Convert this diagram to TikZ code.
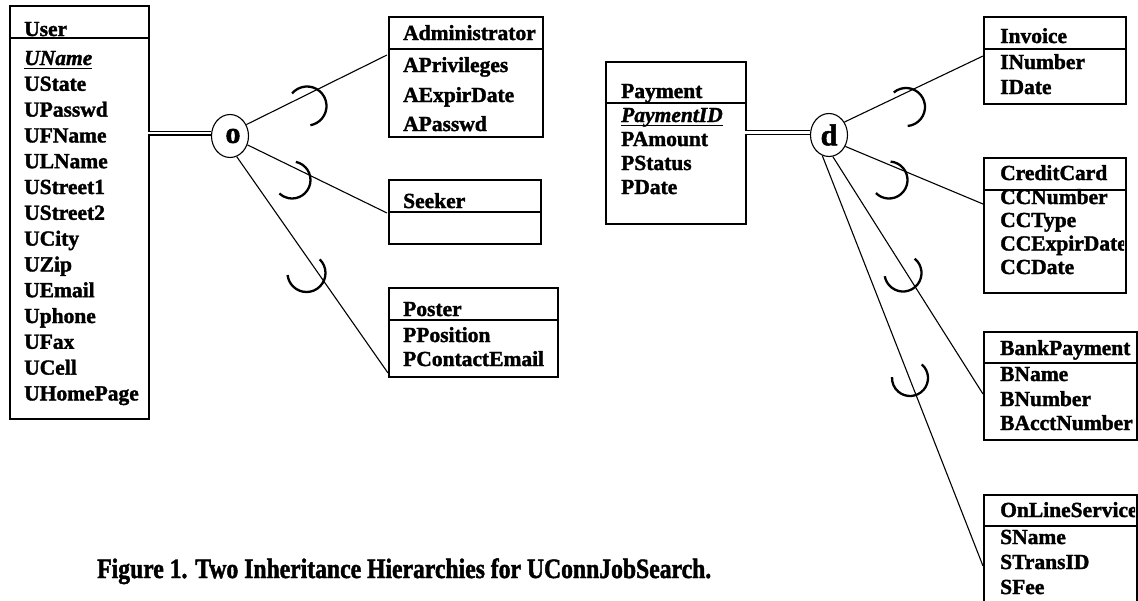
\documentclass[tikz,border=0pt]{standalone}
\usepackage{fontspec}
\setmainfont{Liberation Serif}[BoldFeatures={FakeBold=1.6},BoldItalicFeatures={FakeBold=1.6}]
\newfontfamily\capfont{Liberation Serif}[FakeStretch=0.845,BoldFeatures={FakeBold=1.6}]
\usetikzlibrary{shapes.geometric}
\begin{document}
\begin{tikzpicture}[x=1pt,y=-1pt,
  ebox/.style={draw, line width=1.9pt, inner sep=0pt, anchor=north west},
  sepline/.style={line width=1.9pt},
  lbl/.style={anchor=base west, inner sep=0pt, font=\fontsize{21.5}{24}\selectfont\bfseries},
  link/.style={line width=1.1pt},
  dbl/.style={double, double distance=2.4pt, line width=1.3pt},
  subarc/.style={line width=2.3pt},
  gen/.style={ellipse, draw, line width=1.1pt, minimum width=37pt, minimum height=43pt, inner sep=0pt,
    font=\fontsize{30}{30}\selectfont\bfseries},
  captext/.style={anchor=base west, inner sep=0pt, font=\capfont\fontsize{28}{28}\selectfont\bfseries}]
\useasboundingbox (0,0) rectangle (1138,600);

% ---------- boxes ----------
\node[ebox, minimum width=139pt, minimum height=413pt] (user) at (9,5) {};
\draw[sepline] ([yshift=-33pt]user.north west) -- ([yshift=-33pt]user.north east);
\node[ebox, minimum width=154pt, minimum height=120pt] (admin) at (388,16) {};
\draw[sepline] ([yshift=-33pt]admin.north west) -- ([yshift=-33pt]admin.north east);
\node[ebox, minimum width=152pt, minimum height=64pt] (seeker) at (388,179) {};
\draw[sepline] ([yshift=-33pt]seeker.north west) -- ([yshift=-33pt]seeker.north east);
\node[ebox, minimum width=169pt, minimum height=89pt] (poster) at (388,287) {};
\draw[sepline] ([yshift=-33pt]poster.north west) -- ([yshift=-33pt]poster.north east);
\node[ebox, minimum width=140pt, minimum height=162pt] (payment) at (605,61) {};
\draw[sepline] ([yshift=-42pt]payment.north west) -- ([yshift=-42pt]payment.north east);
\node[ebox, minimum width=142pt, minimum height=87pt] (invoice) at (983,16) {};
\draw[sepline] ([yshift=-33pt]invoice.north west) -- ([yshift=-33pt]invoice.north east);
\node[ebox, minimum width=142pt, minimum height=135pt] (credit) at (983,157) {};
\draw[sepline] ([yshift=-33pt]credit.north west) -- ([yshift=-33pt]credit.north east);
\node[ebox, minimum width=153pt, minimum height=108pt] (bank) at (983,331) {};
\draw[sepline] ([yshift=-32pt]bank.north west) -- ([yshift=-32pt]bank.north east);
\node[ebox, minimum width=153pt, minimum height=126pt] (online) at (983,494) {};
\draw[sepline] ([yshift=-32pt]online.north west) -- ([yshift=-32pt]online.north east);

% ---------- texts ----------
\node[lbl] (tUser) at (24,36) {User};
\node[lbl] (tUName) at (24,65) {\itshape UName};
\draw[line width=1.9pt] ([yshift=-3.5pt]tUName.base west) -- ([yshift=-3.5pt]tUName.base east);
\node[lbl] (tUState) at (24,90.8) {UState};
\node[lbl] (tUPasswd) at (24,116.6) {UPasswd};
\node[lbl] (tUFName) at (24,142.4) {UFName};
\node[lbl] (tULName) at (24,168.2) {ULName};
\node[lbl] (tUStreetA) at (24,194) {UStreet1};
\node[lbl] (tUStreetB) at (24,219.8) {UStreet2};
\node[lbl] (tUCity) at (24,245.6) {UCity};
\node[lbl] (tUZip) at (24,271.4) {UZip};
\node[lbl] (tUEmail) at (24,297.2) {UEmail};
\node[lbl] (tUphone) at (24,323) {Uphone};
\node[lbl] (tUFax) at (24,348.8) {UFax};
\node[lbl] (tUCell) at (24,374.6) {UCell};
\node[lbl] (tUHome) at (24,400.4) {UHomePage};

\node[lbl] (tAdmin) at (403,40) {Administrator};
\node[lbl] (tAPriv) at (403,72) {APrivileges};
\node[lbl] (tAExp) at (403,102) {AExpirDate};
\node[lbl] (tAPass) at (403,131) {APasswd};

\node[lbl] (tSeeker) at (403,208) {Seeker};

\node[lbl] (tPoster) at (403,316) {Poster};
\node[lbl] (tPPos) at (403,342) {PPosition};
\node[lbl] (tPCont) at (403,366) {PContactEmail};

\node[lbl] (tPay) at (621,98) {Payment};
\node[lbl] (tPayID) at (621,122) {\itshape PaymentID};
\draw[line width=1.9pt] ([yshift=-3.5pt]tPayID.base west) -- ([yshift=-3.5pt]tPayID.base east);
\node[lbl] (tPAm) at (621,146) {PAmount};
\node[lbl] (tPSt) at (621,170) {PStatus};
\node[lbl] (tPDa) at (621,194) {PDate};

\node[lbl] (tInv) at (1000,43) {Invoice};
\node[lbl] (tINum) at (1000,69) {INumber};
\node[lbl] (tIDate) at (1000,94) {IDate};

\begin{scope}
\clip (983,157) rectangle (1124,292);
\node[lbl] (tCC) at (1000,180) {CreditCard};
\node[lbl] (tCCNum) at (1000,204) {CCNumber};
\node[lbl] (tCCType) at (1000,227) {CCType};
\node[lbl] (tCCExp) at (1000,250.5) {CCExpirDate};
\node[lbl] (tCCDate) at (1000,274) {CCDate};
\end{scope}

\node[lbl] (tBank) at (1000,355) {BankPayment};
\node[lbl] (tBName) at (1000,381) {BName};
\node[lbl] (tBNum) at (1000,406) {BNumber};
\node[lbl] (tBAcct) at (1000,430) {BAcctNumber};

\begin{scope}
\clip (983,494) rectangle (1135,620);
\node[lbl] (tOnl) at (1000,517) {OnLineService};
\node[lbl] (tSName) at (1000,544) {SName};
\node[lbl] (tSTrans) at (1000,569) {STransID};
\node[lbl] (tSFee) at (1000,594) {SFee};
\end{scope}

% ---------- generalisation circles ----------
\node[gen] (o) at (230,136) {\hspace*{6pt}o};
\node[gen] (d) at (829,135) {d};

\coordinate (userR) at (148,133);
\coordinate (payR) at (745,132.5);
\draw[dbl] (userR) -- (userR -| o.west);
\draw[dbl] (payR) -- (payR -| d.west);

\coordinate (aIn) at (387,55);
\coordinate (sIn) at (387,213);
\coordinate (pIn) at (388,373);
\coordinate (iIn) at (983,56);
\coordinate (cIn) at (983,204);
\coordinate (bIn) at (983,394);
\coordinate (olIn) at (983,566);

\draw[link] (o.35) -- (aIn);
\draw[link] (o.-27) -- (sIn);
\draw[link] (o.-72) -- (pIn);
\draw[link] (d.40) -- (iIn);
\draw[link] (d.-35) -- (cIn);
\draw[link] (d.-80) -- (bIn);
\draw[link] (d.-108) -- (olIn);

% ---------- subset arcs ----------
\coordinate (sa) at (307,106);
\coordinate (sb) at (292,180);
\coordinate (sc) at (306.5,273);
\coordinate (sd) at (906,107);
\coordinate (se) at (889,180);
\coordinate (sf) at (903,273);
\coordinate (sg) at (910,378);
\draw[subarc] (sa) ++(220:19.5) arc[start angle=220, end angle=440, radius=19.5];
\draw[subarc] (sb) ++(282:18.5) arc[start angle=282, end angle=493, radius=18.5];
\draw[subarc] (sc) ++(314:19) arc[start angle=314, end angle=534, radius=19];
\draw[subarc] (sd) ++(230:19) arc[start angle=230, end angle=445, radius=19];
\draw[subarc] (se) ++(275:18.5) arc[start angle=275, end angle=495, radius=18.5];
\draw[subarc] (sf) ++(309:18.5) arc[start angle=309, end angle=530, radius=18.5];
\draw[subarc] (sg) ++(311:18) arc[start angle=311, end angle=543, radius=18];

% ---------- caption ----------
\node[captext] (caption) at (97,578) {Figure 1. Two Inheritance Hierarchies for UConnJobSearch.};
\end{tikzpicture}
\end{document}
